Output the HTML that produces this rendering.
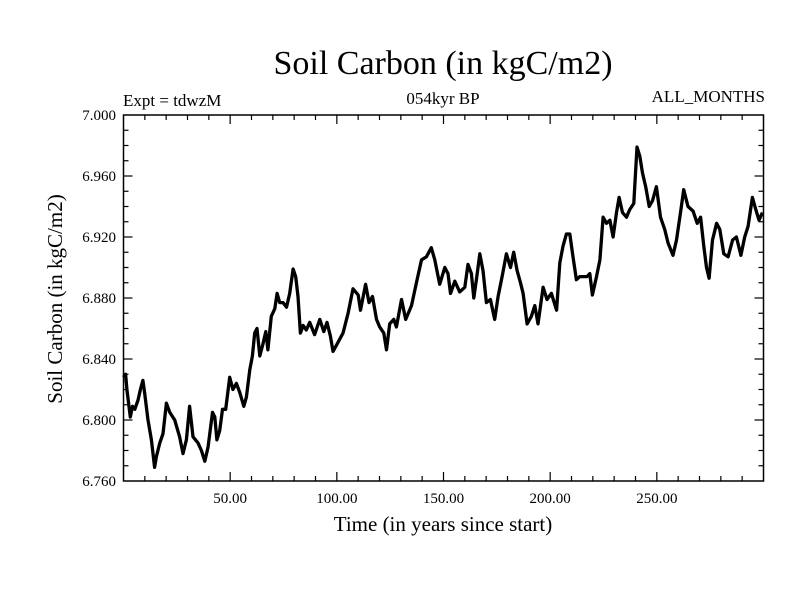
<!DOCTYPE html>
<html><head><meta charset="utf-8"><style>
body{margin:0;background:#fff}
svg text{font-family:"Liberation Serif",serif;fill:#000}
</style></head><body>
<svg id="chart" width="800" height="600" xmlns="http://www.w3.org/2000/svg">
<rect width="800" height="600" fill="#fff"/>
<text x="443" y="74" font-size="34" text-anchor="middle">Soil Carbon (in kgC/m2)</text>
<text x="123" y="106" font-size="17">Expt = tdwzM</text>
<text x="443" y="104" font-size="17" text-anchor="middle">054kyr BP</text>
<text x="765" y="102" font-size="17" text-anchor="end">ALL_MONTHS</text>
<text x="443" y="531" font-size="21" text-anchor="middle">Time (in years since start)</text>
<text transform="translate(62,299) rotate(-90)" font-size="21" text-anchor="middle">Soil Carbon (in kgC/m2)</text>
<g id="axes"></g>
<path id="series" fill="none" stroke="#000" stroke-width="3.3" stroke-linejoin="round"/>
<rect x="123.5" y="115" width="640" height="366" fill="none" stroke="#000" stroke-width="1.5"/>
</svg>
<script>
const years=[0,1,1.6,3.2,4.2,5.3,6.8,7.9,9.1,9.9,11.5,13.1,14.6,15.4,17,18.5,20.1,21.7,24,26.3,27.9,29.5,31,32.6,34.9,36.5,38.1,39.6,41.7,42.8,43.8,45.1,46.4,47.9,49.8,51.3,52.9,54.5,56.4,57.6,59.2,60.4,61.5,62.6,63.9,65.4,66.7,67.7,69.3,70.9,72,73.2,74.8,76.4,77.9,79.5,80.7,81.8,82.9,84.2,85.7,87.3,89.6,92,93.9,95.4,97,98.2,99.8,102.9,105.3,107.6,110,111.1,113.5,115.1,116.7,118.6,120.1,122,123.3,124.8,126.7,127.9,130.3,132.3,135,137.3,139.7,142,144.3,145.9,148.2,150.6,152.1,153.3,155.3,157.6,160,161.5,163.1,164.2,165.4,167,168.5,170.1,172,174,175.6,177.6,179.5,181.4,182.9,184.5,186.1,187.3,189.2,191.2,192.8,194.3,196.7,198.5,200.6,203,204.5,206,207.6,209.2,210.7,212.3,213.9,215.4,217.3,218.6,219.8,221.7,223.3,224.8,226.4,228,229.5,231.1,232.3,233.9,235.8,237.3,239.2,240.7,242,243.3,244.8,246.4,248,249.8,251.7,253.7,255.3,257.6,259.2,261.1,262.6,264.6,267,268.9,270.5,272,273.3,274.5,276.1,278,279.5,281.4,283.4,285.5,287.3,289.4,291.2,292.8,294.8,296.4,297.9,299.5];
const carbon=[6.828,6.830,6.820,6.802,6.809,6.807,6.813,6.820,6.826,6.818,6.800,6.787,6.769,6.776,6.785,6.791,6.811,6.805,6.800,6.789,6.778,6.787,6.809,6.789,6.785,6.780,6.773,6.782,6.805,6.802,6.787,6.793,6.807,6.807,6.828,6.820,6.824,6.818,6.809,6.815,6.833,6.842,6.857,6.860,6.842,6.850,6.858,6.846,6.868,6.873,6.883,6.877,6.877,6.874,6.883,6.899,6.894,6.881,6.857,6.862,6.859,6.864,6.856,6.866,6.858,6.864,6.855,6.845,6.849,6.857,6.870,6.886,6.882,6.872,6.889,6.877,6.881,6.866,6.861,6.857,6.846,6.863,6.866,6.861,6.879,6.866,6.875,6.890,6.905,6.907,6.913,6.905,6.889,6.900,6.896,6.883,6.891,6.884,6.887,6.902,6.896,6.880,6.892,6.909,6.898,6.877,6.879,6.866,6.881,6.895,6.909,6.900,6.910,6.898,6.890,6.883,6.863,6.868,6.875,6.863,6.887,6.879,6.883,6.872,6.903,6.914,6.922,6.922,6.907,6.892,6.894,6.894,6.894,6.896,6.882,6.894,6.905,6.933,6.929,6.931,6.920,6.936,6.946,6.936,6.933,6.938,6.942,6.979,6.973,6.962,6.953,6.940,6.944,6.953,6.933,6.925,6.916,6.908,6.918,6.936,6.951,6.940,6.937,6.929,6.933,6.914,6.900,6.893,6.918,6.929,6.925,6.909,6.907,6.918,6.920,6.908,6.920,6.927,6.946,6.938,6.931,6.936];
const xTickValues=[50,100,150,200,250];
const xTickLabels=["50.00","100.00","150.00","200.00","250.00"];
const yTickValues=[6.76,6.80,6.84,6.88,6.92,6.96,7.00];
const yTickLabels=["6.760","6.800","6.840","6.880","6.920","6.960","7.000"];

const X0=123.5,X1=763.5,Y0=481,Y1=115;
const xMin=0,xMax=300,yMin=6.76,yMax=7.0;
function xs(v){return X0+(v-xMin)/(xMax-xMin)*(X1-X0);}
function ys(v){return Y0-(v-yMin)/(yMax-yMin)*(Y0-Y1);}
const NS="http://www.w3.org/2000/svg";
const axes=document.getElementById('axes');
function line(x1,y1,x2,y2,name){
  const l=document.createElementNS(NS,'line');
  l.setAttribute('x1',x1);l.setAttribute('y1',y1);l.setAttribute('x2',x2);l.setAttribute('y2',y2);
  l.setAttribute('stroke','#000');l.setAttribute('stroke-width','1.2');
  
  
  axes.appendChild(l);
}
function txt(x,y,s,anchor,name){
  const t=document.createElementNS(NS,'text');
  t.setAttribute('x',x);t.setAttribute('y',y);t.setAttribute('font-size','15');t.setAttribute('text-anchor',anchor);
  t.textContent=s;
  
  
  axes.appendChild(t);
}
for(let v=10;v<xMax;v+=10){
  const major=v%50===0, len=major?9:5, x=xs(v);
  line(x,Y0,x,Y0-len,'x-tick');
  line(x,Y1,x,Y1+len,'x-tick-top');
}
for(let i=1;i<24;i++){
  const v=yMin+i*0.01, major=i%4===0, len=major?9:5, y=ys(v);
  line(X0,y,X0+len,y,'y-tick');
  line(X1,y,X1-len,y,'y-tick-right');
}
xTickValues.forEach((v,i)=>txt(xs(v),503,xTickLabels[i],'middle','x-tick-label'));
yTickValues.forEach((v,i)=>txt(116,ys(v)+5,yTickLabels[i],'end','y-tick-label'));
let d='';
years.forEach((v,i)=>{d+=(i?'L':'M')+xs(v).toFixed(1)+' '+ys(carbon[i]).toFixed(1);});
document.getElementById('series').setAttribute('d',d);
</script>
</body></html>
